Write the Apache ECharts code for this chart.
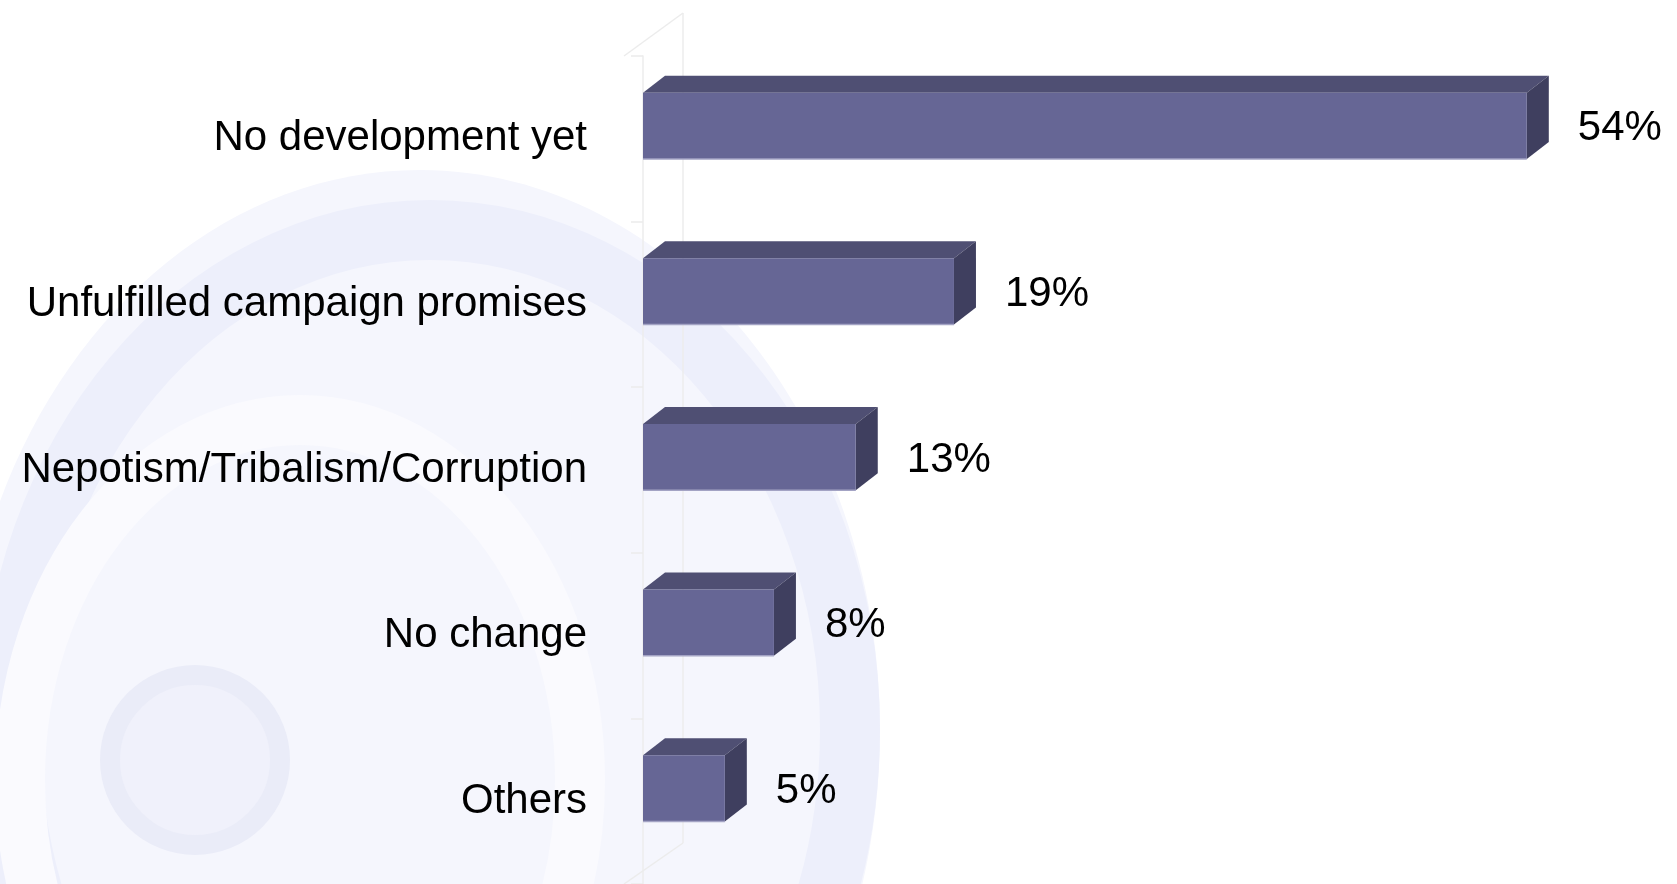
<!DOCTYPE html>
<html>
<head>
<meta charset="utf-8">
<script src="https://cdn.jsdelivr.net/npm/echarts@6/dist/echarts.min.js"></script>
<style>
html,body{margin:0;padding:0;background:#ffffff;}
#chart{width:1677px;height:884px;}
</style>
</head>
<body>
<div id="chart"></div>
<script>
const categories = ["No development yet", "Unfulfilled campaign promises", "Nepotism/Tribalism/Corruption", "No change", "Others"];
const values = [54, 19, 13, 8, 5];
const valueLabels = ["54%", "19%", "13%", "8%", "5%"];

const chart = echarts.init(document.getElementById('chart'), null, {renderer: 'canvas'});

const FONT = '"Liberation Sans", Arial, Helvetica, sans-serif';

function renderItem(params, api) {
  const v = api.value(0);
  const cat = api.value(1);
  const p0 = api.coord([0, cat]);
  const p1 = api.coord([v, cat]);
  const band = api.size([0, 1])[1];
  const cy = p0[1];
  const top = cy - band * 0.278;
  const bot = cy + band * 0.122;
  const x0 = p0[0], x1 = p1[0];
  const dx = 22, dy = 17;
  return {
    type: 'group',
    children: [
      {type: 'polygon', shape: {points: [[x0, top], [x0 + dx, top - dy], [x1 + dx, top - dy], [x1, top]]},
        style: {fill: '#4f4f73'}},
      {type: 'polygon', shape: {points: [[x1, top], [x1 + dx, top - dy], [x1 + dx, bot - dy], [x1, bot]]},
        style: {fill: '#3f3f5f'}},
      {type: 'rect', shape: {x: x0, y: top, width: x1 - x0, height: bot - top},
        style: {fill: '#666695'}},
      {type: 'line', shape: {x1: x0, y1: bot, x2: x1, y2: bot},
        style: {stroke: '#a3a3c4', lineWidth: 1.5}},
      {type: 'text', style: {text: valueLabels[params.dataIndex], x: x1 + dx + 29, y: (top + bot) / 2 + 3,
        verticalAlign: 'middle', align: 'left', fill: '#000000', font: '42px ' + FONT}}
    ]
  };
}

const option = {
  backgroundColor: '#ffffff',
  animation: false,
  graphic: [
    {type: 'group', silent: true, z: -10, children: [
      {type: 'ellipse', shape: {cx: 420, cy: 730, rx: 460, ry: 560}, style: {fill: '#f5f6fd'}},
      {type: 'ellipse', shape: {cx: 430, cy: 730, rx: 420, ry: 500}, style: {fill: 'none', stroke: '#edeffb', lineWidth: 60}},
      {type: 'ellipse', shape: {cx: 300, cy: 780, rx: 280, ry: 360}, style: {fill: 'none', stroke: '#fafafe', lineWidth: 50}},
      {type: 'circle', shape: {cx: 195, cy: 760, r: 85}, style: {fill: '#f0f1fb', stroke: '#eaecf8', lineWidth: 20}}
    ]},
    {type: 'group', silent: true, z: 1, children: [
      {type: 'line', shape: {x1: 624, y1: 56, x2: 683, y2: 13}, style: {stroke: '#ececec', lineWidth: 1.5}},
      {type: 'line', shape: {x1: 683, y1: 13, x2: 683, y2: 843}, style: {stroke: '#ececec', lineWidth: 1.5}},
      {type: 'line', shape: {x1: 683, y1: 843, x2: 624, y2: 884}, style: {stroke: '#ececec', lineWidth: 1.5}}
    ]}
  ],
  grid: {left: 643, right: 52, top: 56, bottom: 0, containLabel: false},
  xAxis: {
    type: 'value', min: 0, max: 60, show: false,
    splitLine: {show: false}
  },
  yAxis: {
    type: 'category', data: categories, inverse: true, offset: 19,
    axisLine: {show: true, lineStyle: {color: '#ececec', width: 1.5}},
    axisTick: {show: true, length: 12, lineStyle: {color: '#ececec', width: 1.5}},
    axisLabel: {margin: 37, fontSize: 42, color: '#000000', fontFamily: FONT, padding: [14, 0, 0, 0]},
    splitLine: {show: false}
  },
  series: [{
    type: 'custom',
    renderItem: renderItem,
    encode: {x: 0, y: 1},
    data: values.map((v, i) => [v, i])
  }]
};
chart.setOption(option);
</script>
</body>
</html>
